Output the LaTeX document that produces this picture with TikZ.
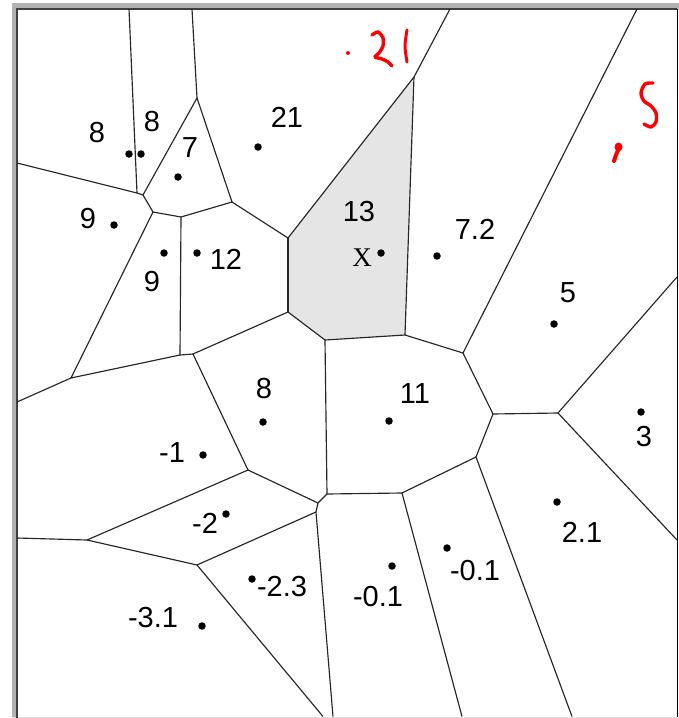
\documentclass[tikz,border=0pt]{standalone}
\usepackage{fontspec}
\setmainfont{Liberation Sans}
\newfontfamily\serifx{Liberation Serif}
\begin{document}
\begin{tikzpicture}[x=1pt,y=-1pt,
  edge/.style={draw=black!85,line width=1.15pt},
  site/.style={circle,fill=black,inner sep=0pt,minimum size=7.5pt},
  lab/.style={inner sep=0pt,font=\fontsize{29}{32}\selectfont},
  redmark/.style={draw=red,line width=3.4pt,line cap=round,line join=round}]
\useasboundingbox (0,0) rectangle (679,718);
\fill[white] (0,0) rectangle (679,718);
% frame
\fill[black!30] (12,3) rectangle (679,8.5);
\fill[black!30] (12,3) rectangle (16.5,718);
\fill[black!12] (12,716.5) rectangle (679,718);
\draw[black!75,line width=1.2pt] (17,718) -- (17,9) -- (677,9);
\draw[black,line width=1.2pt] (677.6,8.5) -- (677.6,716.5);
% vertices
\coordinate (A1) at (137,193);
\coordinate (A2) at (143,195);
\coordinate (B) at (197,98);
\coordinate (C) at (153,212);
\coordinate (D) at (181,217);
\coordinate (E) at (232,202);
\coordinate (F) at (288,238);
\coordinate (G) at (288,312);
\coordinate (H) at (325,340);
\coordinate (I1) at (180,355);
\coordinate (I2) at (193,354);
\coordinate (J) at (71,378);
\coordinate (K) at (248,470);
\coordinate (L) at (318,503);
\coordinate (L2) at (316,512);
\coordinate (M) at (327,494);
\coordinate (N) at (87,540);
\coordinate (O) at (197,565);
\coordinate (P) at (493,414);
\coordinate (Q) at (558,413);
\coordinate (R) at (476,457);
\coordinate (S) at (402,493);
\coordinate (T) at (414,77);
\coordinate (U) at (405,335);
\coordinate (V) at (463,353);
% boundary ends
\coordinate (t1) at (129,9);
\coordinate (t2) at (192,9);
\coordinate (t3) at (450,9);
\coordinate (t4) at (637,9);
\coordinate (w1) at (17,163);
\coordinate (w2) at (17,402);
\coordinate (w3) at (17,538);
\coordinate (e1) at (677,277);
\coordinate (e2) at (677,540);
\coordinate (b1) at (323,716.5);
\coordinate (b2) at (333,716.5);
\coordinate (b3) at (462,716.5);
\coordinate (b4) at (572,716.5);
% highlighted cell
\fill[black!10] (F) -- (T) -- (U) -- (H) -- (G) -- cycle;
% edges
\draw[edge] (t1) -- (A1);
\draw[edge] (w1) -- (A1);
\draw[edge] (A1) -- (A2);
\draw[edge] (A2) -- (B);
\draw[edge] (A2) -- (C);
\draw[edge] (t2) -- (B);
\draw[edge] (B) -- (E);
\draw[edge] (C) -- (D);
\draw[edge] (D) -- (E);
\draw[edge] (C) -- (J);
\draw[edge] (E) -- (F);
\draw[edge] (F) -- (G);
\draw[edge] (F) -- (T);
\draw[edge] (G) -- (H);
\draw[edge] (G) -- (I2);
\draw[edge] (H) -- (U);
\draw[edge] (U) -- (T);
\draw[edge] (T) -- (t3);
\draw[edge] (U) -- (V);
\draw[edge] (V) -- (t4);
\draw[edge] (V) -- (P);
\draw[edge] (D) -- (I1);
\draw[edge] (I1) -- (I2);
\draw[edge] (J) -- (I1);
\draw[edge] (J) -- (w2);
\draw[edge] (I2) -- (K);
\draw[edge] (K) -- (L);
\draw[edge] (K) -- (N);
\draw[edge] (H) -- (M);
\draw[edge] (L) -- (M);
\draw[edge] (L) -- (L2);
\draw[edge] (M) -- (S);
\draw[edge] (S) -- (R);
\draw[edge] (R) -- (P);
\draw[edge] (P) -- (Q);
\draw[edge] (Q) -- (e1);
\draw[edge] (Q) -- (e2);
\draw[edge] (R) -- (b4);
\draw[edge] (S) -- (b3);
\draw[edge] (L2) -- (b2);
\draw[edge] (L2) -- (O);
\draw[edge] (O) -- (b1);
\draw[edge] (N) -- (O);
\draw[edge] (N) -- (w3);
% sites
\node[site] (p8a) at (129,154) {};
\node[site] (p8b) at (141,154) {};
\node[site] (p7) at (178,177) {};
\node[site] (p21) at (258,147) {};
\node[site] (p9a) at (114,225) {};
\node[site] (p9b) at (164,253) {};
\node[site] (p12) at (197,253) {};
\node[site] (p13) at (381,253) {};
\node[site] (p72) at (437,256) {};
\node[site] (p5) at (554,324) {};
\node[site] (p8c) at (263,422) {};
\node[site] (p11) at (389,421) {};
\node[site] (p3) at (641,412) {};
\node[site] (pm1) at (203,455) {};
\node[site] (pm2) at (226,514) {};
\node[site] (pm23) at (252,579) {};
\node[site] (pm31) at (202,626) {};
\node[site] (p21b) at (557,502) {};
\node[site] (pm01a) at (447,548) {};
\node[site] (pm01b) at (392,566) {};
% labels
\node[lab] (l8a) at (97,133) {8};
\node[lab] (l8b) at (152,122) {8};
\node[lab] (l7) at (190,148) {7};
\node[lab] (l21) at (287,117) {21};
\node[lab] (l9a) at (88,219) {9};
\node[lab] (l9b) at (152,282) {9};
\node[lab] (l12) at (226,259) {12};
\node[lab] (l13) at (359,212) {13};
\node[inner sep=0pt,font=\serifx\fontsize{27}{30}\selectfont] (lX) at (362,258) {X};
\node[lab] (l72) at (475,229) {7.2};
\node[lab] (l5) at (568,293) {5};
\node[lab] (l8c) at (264,389) {8};
\node[lab] (l11) at (415,394) {11};
\node[lab] (l3) at (644,437) {3};
\node[lab] (lm1) at (172,453) {-1};
\node[lab] (lm2) at (205,523) {-2};
\node[lab] (lm23) at (282,587) {-2.3};
\node[lab] (lm31) at (153,618) {-3.1};
\node[lab] (l21b) at (582,532) {2.1};
\node[lab] (lm01a) at (475,571) {-0.1};
\node[lab] (lm01b) at (378,597) {-0.1};
% red handwriting
\fill[red] (348,53) circle (2pt);
\draw[redmark] plot[smooth] coordinates {(372,35) (378,32) (383,38) (383,46) (379,53) (375,57) (382,59) (388,62) (392,66)};
\draw[redmark,line width=3pt] plot[smooth] coordinates {(407,30) (405,46) (407,62)};
\draw[redmark] plot[smooth] coordinates {(653,83) (645,84) (641,93) (644,101) (651,106) (656,113) (656,122) (651,127) (644,124)};
\fill[red] (618.5,147) ellipse (4pt and 4.5pt);
\draw[redmark,line width=4pt] plot[smooth] coordinates {(619,148) (616,155) (614,161)};
\end{tikzpicture}
\end{document}
